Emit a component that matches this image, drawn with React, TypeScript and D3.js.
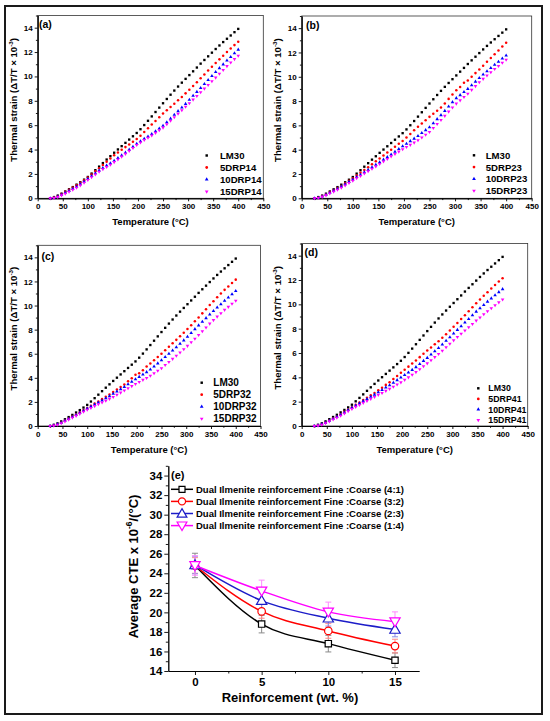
import { useEffect, useRef } from 'react';
import * as d3 from 'd3';

const FONT = "'Liberation Sans', Arial, Helvetica, sans-serif";

// temperature grid of the dilatometer curves (°C)
const temps = [
  25, 32.5, 40, 47.5, 55, 62.5, 70, 77.5, 85, 92.5, 100,
  107.5, 115, 122.5, 130, 137.5, 145, 152.5, 160, 167.5, 175,
  182.5, 190, 197.5, 205, 212.5, 220, 227.5, 235, 242.5, 250,
  257.5, 265, 272.5, 280, 287.5, 295, 302.5, 310, 317.5, 325,
  332.5, 340, 347.5, 355, 362.5, 370, 377.5, 385, 392.5, 400,
];

const strainLM30 = [
  0.00, 0.10, 0.22, 0.38, 0.56, 0.74, 0.92, 1.12, 1.32, 1.53, 1.75,
  2.03, 2.31, 2.60, 2.89, 3.18, 3.46, 3.74, 4.01, 4.28, 4.55,
  4.82, 5.09, 5.36, 5.67, 6.01, 6.36, 6.72, 7.08, 7.44, 7.80,
  8.15, 8.50, 8.84, 9.17, 9.49, 9.80, 10.11, 10.42, 10.73, 11.05,
  11.35, 11.65, 11.95, 12.25, 12.54, 12.82, 13.09, 13.36, 13.63, 13.90,
];

const strain5DRP14 = [
  0.00, 0.08, 0.19, 0.36, 0.53, 0.70, 0.88, 1.07, 1.27, 1.48, 1.70,
  1.96, 2.21, 2.47, 2.73, 3.00, 3.27, 3.53, 3.76, 3.98, 4.20,
  4.42, 4.64, 4.87, 5.14, 5.44, 5.75, 6.05, 6.35, 6.65, 6.95,
  7.22, 7.49, 7.76, 8.04, 8.32, 8.61, 8.90, 9.21, 9.53, 9.85,
  10.16, 10.48, 10.80, 11.10, 11.40, 11.70, 12.00, 12.29, 12.57, 12.85,
];
const strain10DRP14 = [
  0.00, 0.04, 0.14, 0.29, 0.45, 0.61, 0.78, 0.96, 1.16, 1.38, 1.60,
  1.83, 2.06, 2.28, 2.49, 2.69, 2.88, 3.08, 3.30, 3.52, 3.75,
  3.99, 4.23, 4.47, 4.68, 4.88, 5.07, 5.27, 5.50, 5.72, 5.95,
  6.24, 6.54, 6.85, 7.15, 7.45, 7.75, 8.08, 8.41, 8.73, 9.05,
  9.38, 9.71, 10.04, 10.36, 10.68, 10.99, 11.30, 11.60, 11.90, 12.20,
];
const strain15DRP14 = [
  0.00, 0.02, 0.10, 0.24, 0.38, 0.54, 0.70, 0.87, 1.06, 1.28, 1.50,
  1.73, 1.96, 2.18, 2.38, 2.57, 2.76, 2.97, 3.19, 3.42, 3.65,
  3.89, 4.13, 4.37, 4.58, 4.78, 4.97, 5.16, 5.37, 5.58, 5.80,
  6.08, 6.37, 6.65, 6.94, 7.22, 7.51, 7.80, 8.10, 8.40, 8.70,
  9.00, 9.30, 9.60, 9.90, 10.22, 10.53, 10.85, 11.14, 11.42, 11.70,
];

const strain5DRP23 = [
  0.00, 0.07, 0.18, 0.32, 0.51, 0.68, 0.84, 1.02, 1.23, 1.44, 1.65,
  1.88, 2.10, 2.33, 2.56, 2.80, 3.04, 3.28, 3.52, 3.76, 4.00,
  4.24, 4.48, 4.72, 5.00, 5.30, 5.60, 5.89, 6.16, 6.43, 6.70,
  6.96, 7.21, 7.47, 7.80, 8.18, 8.55, 8.89, 9.16, 9.50, 9.70,
  10.00, 10.30, 10.60, 10.91, 11.23, 11.54, 11.86, 12.17, 12.49, 12.80,
];
const strain10DRP23 = [
  0.00, 0.05, 0.15, 0.28, 0.46, 0.63, 0.79, 0.97, 1.16, 1.36, 1.55,
  1.75, 1.94, 2.14, 2.34, 2.55, 2.76, 2.97, 3.18, 3.39, 3.60,
  3.83, 4.05, 4.28, 4.49, 4.70, 4.91, 5.13, 5.37, 5.61, 5.85,
  6.18, 6.51, 6.84, 7.19, 7.55, 7.91, 8.24, 8.49, 8.75, 9.00,
  9.30, 9.60, 9.90, 10.18, 10.45, 10.72, 10.99, 11.24, 11.50, 11.75,
];
const strain15DRP23 = [
  0.00, 0.03, 0.12, 0.24, 0.40, 0.55, 0.70, 0.87, 1.06, 1.26, 1.45,
  1.65, 1.84, 2.04, 2.23, 2.43, 2.62, 2.82, 3.03, 3.24, 3.45,
  3.65, 3.84, 4.04, 4.22, 4.40, 4.58, 4.78, 5.00, 5.23, 5.45,
  5.78, 6.11, 6.44, 6.78, 7.13, 7.47, 7.79, 8.06, 8.33, 8.60,
  8.92, 9.23, 9.55, 9.83, 10.10, 10.37, 10.64, 10.89, 11.15, 11.40,
];

const strain5DRP32 = [
  0.00, 0.05, 0.15, 0.29, 0.46, 0.63, 0.79, 0.96, 1.14, 1.32, 1.50,
  1.68, 1.86, 2.04, 2.23, 2.43, 2.62, 2.82, 3.03, 3.24, 3.45,
  3.71, 3.96, 4.25, 4.38, 4.62, 4.94, 5.19, 5.46, 5.73, 6.00,
  6.29, 6.57, 6.86, 7.15, 7.45, 7.75, 8.06, 8.37, 8.69, 9.00,
  9.35, 9.69, 10.04, 10.36, 10.68, 10.99, 11.30, 11.58, 11.87, 12.15,
];
const strain10DRP32 = [
  0.00, 0.04, 0.14, 0.27, 0.43, 0.59, 0.75, 0.91, 1.09, 1.27, 1.45,
  1.62, 1.78, 1.95, 2.12, 2.30, 2.48, 2.67, 2.86, 3.06, 3.25,
  3.46, 3.67, 3.88, 4.08, 4.28, 4.47, 4.69, 4.94, 5.20, 5.45,
  5.72, 5.99, 6.26, 6.54, 6.83, 7.11, 7.41, 7.72, 8.04, 8.35,
  8.65, 8.95, 9.25, 9.54, 9.83, 10.11, 10.39, 10.66, 10.93, 11.20,
];
const strain15DRP32 = [
  0.00, 0.03, 0.11, 0.23, 0.38, 0.53, 0.68, 0.84, 1.01, 1.18, 1.35,
  1.50, 1.65, 1.80, 1.95, 2.10, 2.25, 2.41, 2.59, 2.77, 2.95,
  3.13, 3.31, 3.49, 3.66, 3.83, 3.99, 4.17, 4.38, 4.59, 4.80,
  5.06, 5.31, 5.57, 5.83, 6.10, 6.37, 6.65, 6.95, 7.25, 7.55,
  7.87, 8.18, 8.50, 8.79, 9.08, 9.36, 9.64, 9.89, 10.15, 10.40,
];

const strain5DRP41 = [
  0.00, 0.05, 0.15, 0.29, 0.46, 0.63, 0.79, 0.97, 1.16, 1.36, 1.55,
  1.75, 1.94, 2.14, 2.33, 2.53, 2.72, 2.93, 3.15, 3.38, 3.60,
  3.86, 4.11, 4.37, 4.62, 4.88, 5.13, 5.39, 5.66, 5.93, 6.20,
  6.46, 6.71, 6.97, 7.25, 7.55, 7.85, 8.16, 8.47, 8.79, 9.10,
  9.43, 9.76, 10.09, 10.40, 10.70, 11.00, 11.30, 11.58, 11.87, 12.15,
];
const strain10DRP41 = [
  0.00, 0.04, 0.14, 0.27, 0.43, 0.59, 0.75, 0.92, 1.11, 1.31, 1.50,
  1.68, 1.86, 2.04, 2.22, 2.40, 2.58, 2.77, 2.96, 3.16, 3.35,
  3.56, 3.77, 3.98, 4.19, 4.40, 4.61, 4.84, 5.09, 5.35, 5.60,
  5.87, 6.14, 6.41, 6.70, 7.00, 7.30, 7.60, 7.90, 8.20, 8.50,
  8.80, 9.10, 9.40, 9.68, 9.95, 10.22, 10.49, 10.74, 11.00, 11.25,
];
const strain15DRP41 = [
  0.00, 0.03, 0.11, 0.23, 0.38, 0.53, 0.68, 0.84, 1.03, 1.21, 1.40,
  1.57, 1.73, 1.90, 2.06, 2.23, 2.39, 2.56, 2.72, 2.89, 3.05,
  3.23, 3.41, 3.59, 3.79, 4.00, 4.21, 4.43, 4.67, 4.91, 5.15,
  5.41, 5.66, 5.92, 6.19, 6.48, 6.76, 7.04, 7.31, 7.58, 7.85,
  8.12, 8.39, 8.66, 8.92, 9.18, 9.43, 9.68, 9.92, 10.16, 10.40,
];

const tempTicks = [0, 50, 100, 150, 200, 250, 300, 350, 400, 450];
const strainTicks = [0, 2, 4, 6, 8, 10, 12, 14];

// panel (e): average CTE vs reinforcement
const reinforcement = [0, 5, 10, 15];
const cte41 = [24.8, 18.8, 16.8, 15.1];
const cte32 = [24.8, 20.1, 18.1, 16.55];
const cte23 = [24.85, 21.2, 19.4, 18.25];
const cte14 = [24.8, 22.2, 20.05, 19.05];
const err41 = [1.25, 0.9, 0.85, 0.75];
const err32 = [0.8, 0.7, 0.75, 0.7];
const err23 = [0.9, 0.8, 0.8, 0.75];
const err14 = [1.0, 1.1, 1.0, 1.0];
const cteLegend = [
  'Dual Ilmenite reinforcement Fine :Coarse (4:1)',
  'Dual Ilmenite reinforcement Fine :Coarse (3:2)',
  'Dual Ilmenite reinforcement Fine :Coarse (2:3)',
  'Dual Ilmenite reinforcement Fine :Coarse (1:4)',
];
const cteTicks = [14, 16, 18, 20, 22, 24, 26, 28, 30, 32, 34];

const colors = ['#000000', '#ff0000', '#0000ff', '#ff00ff'];
const symbols = [d3.symbolSquare, d3.symbolCircle, d3.symbolTriangle, d3.symbolTriangle];
const rotations = [0, 0, 0, 180];

const panels = [
  { tag: '(a)', suffix: '14', series: [strainLM30, strain5DRP14, strain10DRP14, strain15DRP14],
    left: 37.7, right: 263.3, top: 15.5, bottom: 198.3, tagX: 39, tagY: 27.5,
    legX: 206.7, legTx: 220, legY: 155.5, legStep: 12, legFs: 9.6 },
  { tag: '(b)', suffix: '23', series: [strainLM30, strain5DRP23, strain10DRP23, strain15DRP23],
    left: 301.7, right: 531.7, top: 16, bottom: 198.3, tagX: 306, tagY: 29,
    legX: 474, legTx: 485.7, legY: 155.3, legStep: 11.8, legFs: 9.6 },
  { tag: '(c)', suffix: '32', series: [strainLM30, strain5DRP32, strain10DRP32, strain15DRP32],
    left: 37.7, right: 260.5, top: 245.3, bottom: 426, tagX: 41.5, tagY: 260,
    legX: 201.7, legTx: 213.3, legY: 382.7, legStep: 12, legFs: 10 },
  { tag: '(d)', suffix: '41', series: [strainLM30, strain5DRP41, strain10DRP41, strain15DRP41],
    left: 301.7, right: 527.7, top: 243.5, bottom: 426, tagX: 304.5, tagY: 256,
    legX: 478.3, legTx: 488.3, legY: 388.3, legStep: 10.6, legFs: 8.8 },
];

// text with a superscript part
const richText = (sel, parts, size) => {
  let up = false;
  parts.forEach(([t, sup]) => {
    const span = sel.append('tspan').text(t);
    if (sup) {
      span.attr('dy', -size * 0.4).attr('font-size', size * 0.65);
      up = true;
    } else if (up) {
      span.attr('dy', size * 0.4);
      up = false;
    }
  });
};

const styleAxis = (g, size) => {
  g.attr('font-family', FONT).attr('font-size', size).attr('font-weight', 'bold');
  g.selectAll('path.domain').attr('stroke', '#000').attr('stroke-width', 0.9);
  g.selectAll('line').attr('stroke', '#000').attr('stroke-width', 0.9);
  g.selectAll('text').attr('fill', '#000');
};

const drawStrainPanel = (svg, p) => {
  const x = d3.scaleLinear().domain([0, 450]).range([p.left, p.right]);
  const y = d3.scaleLinear().domain([0, 15]).range([p.bottom, p.top]);
  const g = svg.append('g');

  g.append('rect')
    .attr('x', p.left).attr('y', p.top)
    .attr('width', p.right - p.left).attr('height', p.bottom - p.top)
    .attr('fill', 'none').attr('stroke', '#333').attr('stroke-width', 0.8);

  g.append('g')
    .attr('transform', `translate(0,${p.bottom})`)
    .call(d3.axisBottom(x).tickValues(tempTicks.map(t => t + 25).slice(0, -1)).tickSize(1.8).tickSizeOuter(0).tickFormat(() => ''))
    .call(s => styleAxis(s, 8));
  g.append('g')
    .attr('transform', `translate(0,${p.bottom})`)
    .call(d3.axisBottom(x).tickValues(tempTicks).tickSize(3).tickPadding(2).tickSizeOuter(0))
    .call(s => styleAxis(s, 8));
  g.append('g')
    .attr('transform', `translate(${p.left},0)`)
    .call(d3.axisLeft(y).tickValues(strainTicks.map(t => t + 1)).tickSize(1.8).tickSizeOuter(0).tickFormat(() => ''))
    .call(s => styleAxis(s, 8));
  g.append('g')
    .attr('transform', `translate(${p.left},0)`)
    .call(d3.axisLeft(y).tickValues(strainTicks).tickSize(3).tickPadding(2).tickSizeOuter(0))
    .call(s => styleAxis(s, 8));

  // axis titles
  g.append('text')
    .attr('x', (p.left + p.right) / 2).attr('y', p.bottom + 27)
    .attr('text-anchor', 'middle').attr('font-family', FONT).attr('font-weight', 'bold').attr('font-size', 9.5)
    .text('Temperature (°C)');
  const yt = g.append('text')
    .attr('transform', `translate(${p.left - 21},${(p.top + p.bottom) / 2 - 7}) rotate(-90)`)
    .attr('text-anchor', 'middle').attr('font-family', FONT).attr('font-weight', 'bold').attr('font-size', 9.6);
  richText(yt, [['Thermal strain (ΔT/T × 10'], ['-3', true], [')']], 9.6);

  g.append('text')
    .attr('x', p.tagX).attr('y', p.tagY)
    .attr('font-family', FONT).attr('font-weight', 'bold').attr('font-size', 10.5)
    .text(p.tag);

  // dotted curves
  p.series.forEach((vals, i) => {
    const sym = d3.symbol().type(symbols[i]).size(i === 1 ? 5 : 5.5);
    g.append('g').selectAll('path')
      .data(vals)
      .enter()
      .append('path')
      .attr('d', sym)
      .attr('transform', (d, k) => `translate(${x(temps[k])},${y(d)}) rotate(${rotations[i]})`)
      .attr('fill', colors[i]);
  });

  // legend
  const names = ['LM30', `5DRP${p.suffix}`, `10DRP${p.suffix}`, `15DRP${p.suffix}`];
  names.forEach((name, i) => {
    const ly = p.legY + i * p.legStep;
    g.append('path')
      .attr('d', d3.symbol().type(symbols[i]).size(6)())
      .attr('transform', `translate(${p.legX},${ly}) rotate(${rotations[i]})`)
      .attr('fill', colors[i]);
    g.append('text')
      .attr('x', p.legTx).attr('y', ly).attr('dy', '0.36em')
      .attr('font-family', FONT).attr('font-weight', 'bold').attr('font-size', p.legFs)
      .text(name);
  });
};

const drawCtePanel = svg => {
  const x = d3.scaleLinear().domain([-2, 16.8]).range([168.3, 419]);
  const y = d3.scaleLinear().domain([14, 35]).range([671, 465.8]);
  const g = svg.append('g');

  g.append('g')
    .attr('transform', 'translate(0,671)')
    .call(d3.axisBottom(x).tickValues([2.5, 7.5, 12.5]).tickSize(2.5).tickSizeOuter(0).tickFormat(() => ''))
    .call(s => styleAxis(s, 11.5));
  g.append('g')
    .attr('transform', 'translate(0,671)')
    .call(d3.axisBottom(x).tickValues(reinforcement).tickSize(4).tickPadding(3).tickSizeOuter(0))
    .call(s => styleAxis(s, 11.5));
  g.append('g')
    .attr('transform', 'translate(168.3,0)')
    .call(d3.axisLeft(y).tickValues(cteTicks.map(t => t + 1)).tickSize(2.5).tickSizeOuter(0).tickFormat(() => ''))
    .call(s => styleAxis(s, 11.5));
  g.append('g')
    .attr('transform', 'translate(168.3,0)')
    .call(d3.axisLeft(y).tickValues(cteTicks).tickSize(4).tickPadding(2).tickSizeOuter(0))
    .call(s => styleAxis(s, 11.5));

  g.append('text')
    .attr('x', 290).attr('y', 702)
    .attr('text-anchor', 'middle').attr('font-family', FONT).attr('font-weight', 'bold').attr('font-size', 13)
    .text('Reinforcement (wt. %)');
  const yt = g.append('text')
    .attr('transform', 'translate(137.5,566.5) rotate(-90)')
    .attr('text-anchor', 'middle').attr('font-family', FONT).attr('font-weight', 'bold').attr('font-size', 13);
  richText(yt, [['Average CTE x 10'], ['-6', true], ['/(°C)']], 13);

  g.append('text')
    .attr('x', 171).attr('y', 478.5)
    .attr('font-family', FONT).attr('font-weight', 'bold').attr('font-size', 11)
    .text('(e)');

  const series = [cte41, cte32, cte23, cte14];
  const errs = [err41, err32, err23, err14];
  const lineColors = ['#000000', '#ff0000', '#1c1cc8', '#ff00ff'];
  const barColors = ['#8a8a8a', '#ff8a8a', '#8a8ae6', '#ff8aff'];
  const symSize = [40, 44, 46, 46];
  const line = d3.line()
    .x((d, k) => x(reinforcement[k]))
    .y(d => y(d))
    .curve(d3.curveMonotoneX);

  series.forEach((vals, i) => {
    const bars = g.append('g').attr('stroke', barColors[i]).attr('stroke-width', 1);
    vals.forEach((v, k) => {
      const cx = x(reinforcement[k]);
      const lo = y(v - errs[i][k]);
      const hi = y(v + errs[i][k]);
      bars.append('line').attr('x1', cx).attr('x2', cx).attr('y1', lo).attr('y2', hi);
      bars.append('line').attr('x1', cx - 3).attr('x2', cx + 3).attr('y1', lo).attr('y2', lo);
      bars.append('line').attr('x1', cx - 3).attr('x2', cx + 3).attr('y1', hi).attr('y2', hi);
    });
  });

  series.forEach((vals, i) => {
    g.append('path')
      .datum(vals)
      .attr('d', line)
      .attr('fill', 'none')
      .attr('stroke', lineColors[i])
      .attr('stroke-width', 1.5);
    g.append('g').selectAll('path')
      .data(vals)
      .enter()
      .append('path')
      .attr('d', d3.symbol().type(symbols[i]).size(symSize[i]))
      .attr('transform', (d, k) => `translate(${x(reinforcement[k])},${y(d) + (i === 2 ? 0.8 : i === 3 ? -0.8 : 0)}) rotate(${rotations[i]})`)
      .attr('fill', '#fff')
      .attr('stroke', lineColors[i])
      .attr('stroke-width', 1.2);
  });

  // legend
  cteLegend.forEach((name, i) => {
    const ly = 489.3 + i * 12.1;
    g.append('line')
      .attr('x1', 171).attr('x2', 193).attr('y1', ly).attr('y2', ly)
      .attr('stroke', lineColors[i]).attr('stroke-width', 1.5);
    g.append('path')
      .attr('d', d3.symbol().type(symbols[i]).size(symSize[i] * 0.9)())
      .attr('transform', `translate(182,${ly + (i === 2 ? 0.8 : i === 3 ? -0.8 : 0)}) rotate(${rotations[i]})`)
      .attr('fill', '#fff')
      .attr('stroke', lineColors[i])
      .attr('stroke-width', 1.2);
    g.append('text')
      .attr('x', 196).attr('y', ly).attr('dy', '0.36em')
      .attr('font-family', FONT).attr('font-weight', 'bold').attr('font-size', 9.5)
      .text(name);
  });
};

const App = () => {
  const svgRef = useRef(null);

  useEffect(() => {
    const svg = d3.select(svgRef.current);
    svg.append('rect').attr('width', 550).attr('height', 721).attr('fill', '#fff');
    // outer frame of the figure
    svg.append('rect')
      .attr('x', 5).attr('y', 6).attr('width', 537).attr('height', 708)
      .attr('fill', 'none').attr('stroke', '#1a1a1a').attr('stroke-width', 2);

    panels.forEach(p => drawStrainPanel(svg, p));
    drawCtePanel(svg);

    return () => {
      d3.select(svgRef.current).selectAll('*').remove();
    };
  }, []);

  return (
    <svg
      ref={svgRef}
      width={550}
      height={721}
      style={{ position: 'absolute', left: 0, top: 0, display: 'block' }}
    />
  );
};

export default App;
